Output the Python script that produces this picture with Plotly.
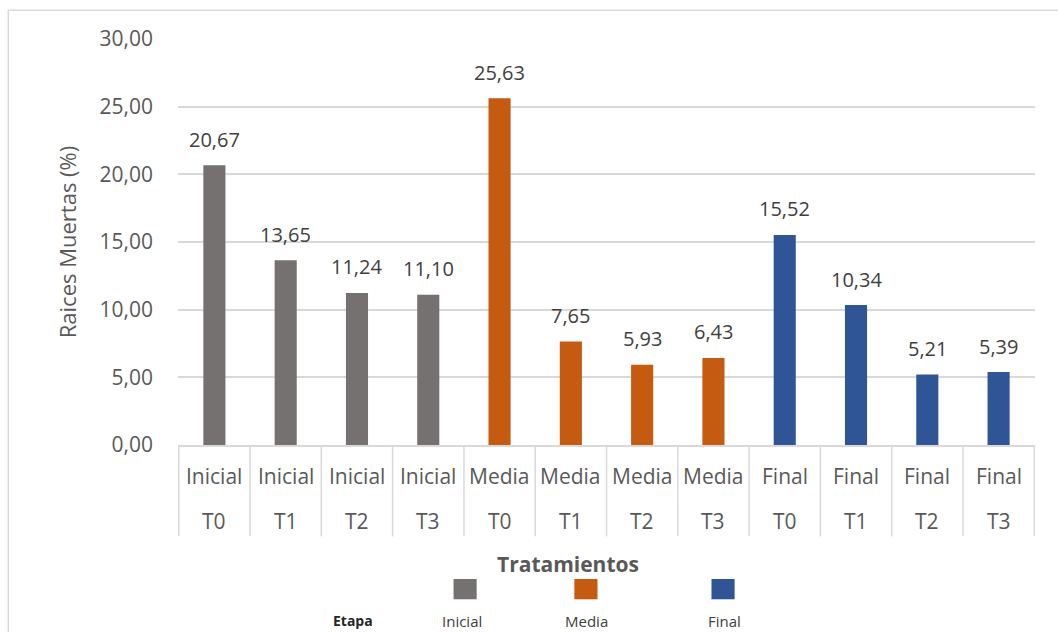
import plotly.graph_objects as go

# Porcentaje de raíces muertas por etapa y tratamiento
etapas = ["Inicial", "Inicial", "Inicial", "Inicial",
          "Media", "Media", "Media", "Media",
          "Final", "Final", "Final", "Final"]
tratamientos = ["T0", "T1", "T2", "T3"] * 3
raices_muertas = [20.67, 13.65, 11.24, 11.10,
                  25.63, 7.65, 5.93, 6.43,
                  15.52, 10.34, 5.21, 5.39]

colores_etapa = {"Inicial": "#767171", "Media": "#C55A11", "Final": "#2F5597"}
y_ticks = [0, 5, 10, 15, 20, 25, 30]

categorias = [f"{e} {t}" for e, t in zip(etapas, tratamientos)]
FONT = "Open Sans"
GRIS = "#595959"

fig = go.Figure()
fig.add_trace(go.Bar(
    x=categorias,
    y=raices_muertas,
    marker=dict(color=[colores_etapa[e] for e in etapas], line=dict(width=0)),
    width=0.31,
    showlegend=False,
    hoverinfo="x+y",
))

annotations = []
shapes = []

# Etiquetas de valor sobre cada barra
for c, v in zip(categorias, raices_muertas):
    annotations.append(dict(
        x=c, y=v, xref="x", yref="y", text=f"{v:.2f}".replace(".", ","),
        showarrow=False, yshift=26, font=dict(family=FONT, size=20, color="#404040"),
    ))

# Etiquetas de categoría en dos niveles
for c, e, t in zip(categorias, etapas, tratamientos):
    annotations.append(dict(x=c, y=-0.077, xref="x", yref="paper", text=e,
                            showarrow=False, xanchor="center", yanchor="middle",
                            font=dict(family=FONT, size=21, color=GRIS)))
    annotations.append(dict(x=c, y=-0.188, xref="x", yref="paper", text=t,
                            showarrow=False, xanchor="center", yanchor="middle",
                            font=dict(family=FONT, size=21, color=GRIS)))

# Divisores entre categorías
for i in range(len(categorias) + 1):
    shapes.append(dict(type="line", xref="x", yref="paper",
                       x0=i - 0.5, x1=i - 0.5, y0=0, y1=-0.225,
                       line=dict(color="#D9D9D9", width=1.5)))

# Título del eje X
annotations.append(dict(x=0.455, y=-0.293, xref="paper", yref="paper",
                        text="<b>Tratamientos</b>", showarrow=False,
                        xanchor="center", yanchor="middle",
                        font=dict(family=FONT, size=21, color=GRIS)))

# Leyenda de etapas: cuadro de color encima del nombre
leyenda = [("Inicial", 0.335, 0.331), ("Media", 0.476, 0.477), ("Final", 0.636, 0.638)]
for nombre, xs, xt in leyenda:
    shapes.append(dict(type="rect", xref="paper", yref="paper",
                       x0=xs - 0.0135, x1=xs + 0.0135, y0=-0.330, y1=-0.380,
                       fillcolor=colores_etapa[nombre], line=dict(width=0)))
    annotations.append(dict(x=xt, y=-0.433, xref="paper", yref="paper", text=nombre,
                            showarrow=False, xanchor="center", yanchor="middle",
                            font=dict(family=FONT, size=15, color="#404040")))
annotations.append(dict(x=0.204, y=-0.433, xref="paper", yref="paper",
                        text="<b>Etapa</b>", showarrow=False,
                        xanchor="center", yanchor="middle",
                        font=dict(family=FONT, size=14, color="#262626")))

# Marco del gráfico
shapes.append(dict(type="rect", xref="paper", yref="paper",
                   x0=-0.198, x1=1.2, y0=1.071, y1=-0.7,
                   line=dict(color="#D9D9D9", width=1.5), fillcolor="rgba(0,0,0,0)",
                   layer="below"))

fig.update_layout(
    width=1058, height=632,
    margin=dict(l=178, r=23, t=39, b=187),
    paper_bgcolor="white", plot_bgcolor="white",
    separators=",.",
    bargap=0.69,
    xaxis=dict(type="category", showticklabels=False, showgrid=False,
               showline=True, linecolor="#D9D9D9", linewidth=1.5,
               ticks="", zeroline=False, fixedrange=True),
    yaxis=dict(range=[0, 30], tickvals=y_ticks, tickformat=".2f",
               showgrid=True, gridcolor="#D9D9D9", gridwidth=1.5,
               zeroline=False, showline=False, ticks="", ticklen=0,
               ticklabelstandoff=24,
               tickfont=dict(family=FONT, size=21, color=GRIS),
               title=dict(text="Raices Muertas (%)", standoff=16,
                          font=dict(family=FONT, size=22, color=GRIS))),
    annotations=annotations,
    shapes=shapes,
    showlegend=False,
)

fig.write_html("out.html")
